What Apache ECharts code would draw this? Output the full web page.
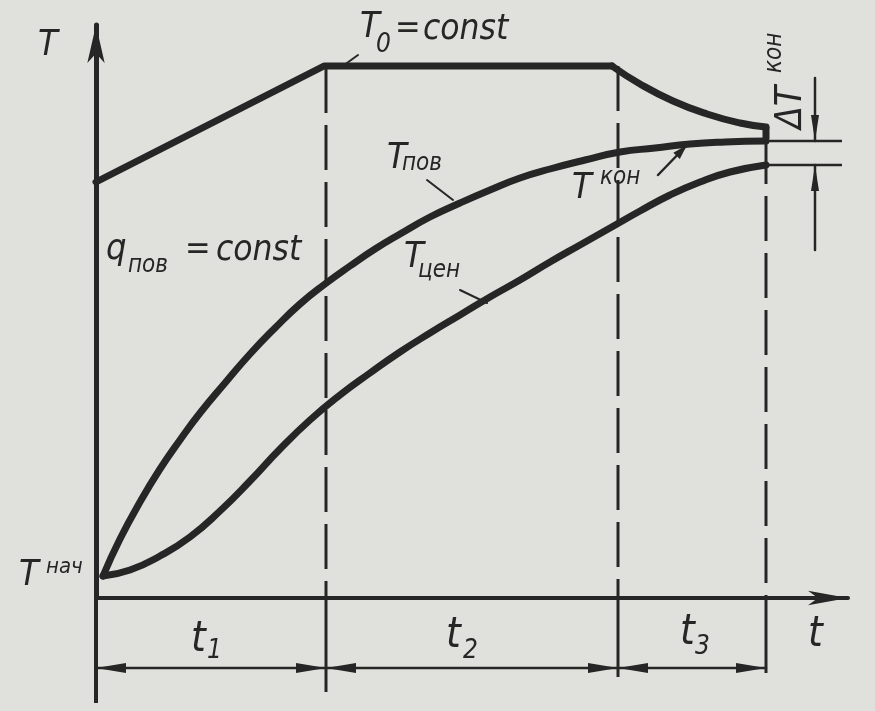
<!DOCTYPE html>
<html><head><meta charset="utf-8">
<script src="https://cdn.jsdelivr.net/npm/echarts@6/dist/echarts.min.js"></script>
<style>html,body{margin:0;padding:0;background:#e0e0dc;}#c{width:875px;height:711px;}</style>
</head><body><div id="c"></div>
<script>
// ---- data (t = time, T = temperature, arbitrary units) ----
const phaseEnds = [23.0, 52.2, 67.0];          // ends of t1, t2, t3
const dashTop   = [53.0, 53.2, 45.9];          // top of each dashed boundary
const extBottom = [-9.4, -7.9, -7.5];          // bottom of each extension line
const dimLevel  = -7.0;                          // level of the t1/t2/t3 dimension line
const yAxisBottom = -10.5;

// T0 = const : linear rise, plateau, then decay to the end of t3
const T0ramp_t = [0, 22.8, 51.6];
const T0ramp_v = [41.6, 53.2, 53.2];
const T0decay_t = [51.6, 54.4, 57.7, 61.1, 64.4, 67.0];
const T0decay_v = [53.2, 51.4, 49.7, 48.4, 47.5, 47.1];
const T0tail_t = [67.0, 67.0];
const T0tail_v = [47.1, 45.9];

const Tpov_t = [0.7, 2.4, 4.4, 6.4, 8.4, 10.4, 12.9, 15.4, 17.9, 20.4, 22.9, 25.4, 27.9, 30.4, 33.4, 36.4, 39.4, 42.4, 45.4, 48.9, 52.4, 55.9, 59.4, 62.9, 67.0];
const Tpov_v = [2.2, 5.9, 9.6, 12.9, 15.8, 18.5, 21.5, 24.4, 27.0, 29.4, 31.4, 33.2, 34.9, 36.4, 38.1, 39.5, 40.8, 42.0, 42.9, 43.8, 44.6, 45.0, 45.4, 45.6, 45.7];
const Tcen_t = [0.7, 3.4, 6.4, 9.4, 12.4, 15.4, 18.4, 21.4, 24.4, 27.4, 30.4, 33.4, 36.4, 39.4, 42.4, 45.4, 48.4, 51.4, 54.4, 57.4, 60.4, 63.4, 67.0];
const Tcen_v = [2.2, 2.8, 4.2, 6.1, 8.7, 11.7, 14.9, 17.8, 20.3, 22.5, 24.6, 26.5, 28.3, 30.1, 31.8, 33.6, 35.3, 37.0, 38.7, 40.3, 41.6, 42.6, 43.3];

const dTkon_t = 71.9;          // ΔT^кон dimension position
const dTkon_top = 52.0, dTkon_bottom = 34.8;
const extEnd_t = 74.6;          // end of the ΔT extension lines
const Tkon_arrow = [56.2, 42.3, 59.1, 45.3];
const leaders = [[24.4, 53.0, 26.2, 54.3], [33.1, 41.8, 35.7, 39.8], [36.4, 30.8, 39.1, 29.5]];

// ---- build ----
const INK = '#262626';
const FONT = '"DejaVu Sans Condensed","DejaVu Sans",sans-serif';
const zip = (a, b) => a.map((v, i) => [v, b[i]]);

function arrowRender(o) {
  return function (params, api) {
    const a = api.coord([api.value(0), api.value(1)]);
    const b = api.coord([api.value(2), api.value(3)]);
    const ch = [{type: 'line', shape: {x1: a[0], y1: a[1], x2: b[0], y2: b[1]},
                 style: {stroke: INK, lineWidth: o.w, lineCap: 'round'}}];
    const dx = b[0] - a[0], dy = b[1] - a[1], L = Math.hypot(dx, dy) || 1;
    const ux = dx / L, uy = dy / L, nx = -uy, ny = ux;
    function head(p, sx, sy) {
      const bx = p[0] - sx * o.len, by = p[1] - sy * o.len;
      return {type: 'polygon', shape: {points: [[p[0], p[1]], [bx + nx * o.hw, by + ny * o.hw], [bx - nx * o.hw, by - ny * o.hw]]},
              style: {fill: INK}};
    }
    if (o.start) ch.push(head(a, -ux, -uy));
    if (o.end) ch.push(head(b, ux, uy));
    return {type: 'group', children: ch};
  };
}

const dimSegs = [];
let prev = 0;
phaseEnds.forEach(e => { dimSegs.push([prev, dimLevel, e, dimLevel]); prev = e; });

const series = [];
const lineBase = {type: 'line', showSymbol: false, symbol: 'none', clip: false, silent: true, animation: false};
const thick = {color: INK, width: 7, cap: 'round', join: 'round'};
series.push(Object.assign({}, lineBase, {data: zip(T0ramp_t, T0ramp_v), lineStyle: thick}));
series.push(Object.assign({}, lineBase, {data: zip(T0decay_t, T0decay_v), smooth: 0.5, lineStyle: thick}));
series.push(Object.assign({}, lineBase, {data: zip(T0tail_t, T0tail_v), lineStyle: {color: INK, width: 7, cap: 'butt'}}));
series.push(Object.assign({}, lineBase, {data: zip(Tpov_t, Tpov_v), smooth: 0.5, lineStyle: thick}));
series.push(Object.assign({}, lineBase, {data: zip(Tcen_t, Tcen_v), smooth: 0.5, lineStyle: thick}));
phaseEnds.forEach((e, i) => {
  series.push(Object.assign({}, lineBase, {data: [[e, dashTop[i]], [e, 0]], lineStyle: {color: INK, width: 3, type: [45, 12]}}));
  series.push(Object.assign({}, lineBase, {data: [[e, 0], [e, extBottom[i]]], lineStyle: {color: INK, width: 3}}));
});
series.push(Object.assign({}, lineBase, {data: [[0, 0], [0, yAxisBottom]], lineStyle: {color: INK, width: 4}}));
// ΔT extension lines
const TpovEnd = Tpov_v[Tpov_v.length - 1], TcenEnd = Tcen_v[Tcen_v.length - 1];
series.push(Object.assign({}, lineBase, {data: [[phaseEnds[2], TpovEnd], [extEnd_t, TpovEnd]], lineStyle: {color: INK, width: 2.5}}));
series.push(Object.assign({}, lineBase, {data: [[phaseEnds[2], TcenEnd], [extEnd_t, TcenEnd]], lineStyle: {color: INK, width: 2.5}}));

const customBase = {type: 'custom', coordinateSystem: 'cartesian2d', clip: false, silent: true, animation: false, encode: {x: [0, 2], y: [1, 3]}};
series.push(Object.assign({}, customBase, {data: dimSegs, renderItem: arrowRender({w: 2.5, len: 30, hw: 5, start: true, end: true})}));
series.push(Object.assign({}, customBase, {data: [
  [dTkon_t, dTkon_top, dTkon_t, TpovEnd],
  [dTkon_t, dTkon_bottom, dTkon_t, TcenEnd]
], renderItem: arrowRender({w: 2.5, len: 26, hw: 4, start: false, end: true})}));
series.push(Object.assign({}, customBase, {data: [Tkon_arrow], renderItem: arrowRender({w: 2.5, len: 15, hw: 4.5, start: false, end: true})}));
series.push(Object.assign({}, customBase, {data: leaders, renderItem: arrowRender({w: 2, len: 0, hw: 0, start: false, end: false})}));

function txt(x, y, s, size, rot) {
  return {type: 'text', x: x, y: y, rotation: rot || 0, silent: true,
    style: {text: s, font: 'italic ' + size + 'px ' + FONT, fill: INK, align: 'left', verticalAlign: 'middle', textAlign: 'left', textVerticalAlign: 'middle'}};
}
const graphics = [
  txt(38, 46, 'T', 36),
  txt(360, 28, 'T', 36), txt(376, 45, '0', 26), txt(395, 29, '=', 34), txt(423, 30, 'const', 35),
  txt(106, 250, 'q', 36), txt(128, 266, 'пов', 24), txt(185, 250, '=', 34), txt(216, 251, 'const', 35),
  txt(387, 159, 'T', 36), txt(402, 164, 'пов', 24),
  txt(404, 258, 'T', 36), txt(418, 271, 'цен', 24),
  txt(572, 189, 'T', 36), txt(600, 178, 'кон', 24),
  txt(19, 576, 'T', 36), txt(46, 567, 'нач', 22),
  txt(791, 129, 'ΔT', 37, Math.PI / 2), txt(775, 73, 'кон', 24, Math.PI / 2),
  txt(191, 640, 't', 42), txt(207, 651, '1', 26),
  txt(446, 636, 't', 42), txt(463, 651, '2', 26),
  txt(680, 633, 't', 42), txt(695, 647, '3', 26),
  txt(808, 635, 't', 42)
];

const chart = echarts.init(document.getElementById('c'), null, {renderer: 'canvas'});
chart.setOption({
  animation: false,
  backgroundColor: '#e0e0dc',
  grid: {left: 96, right: 27, top: 25, bottom: 113, containLabel: false},
  xAxis: {type: 'value', min: 0, max: 75.2,
    axisLine: {onZero: false, symbol: ['none', 'arrow'], symbolSize: [11, 40], lineStyle: {color: INK, width: 4}},
    axisTick: {show: false}, axisLabel: {show: false}, splitLine: {show: false}},
  yAxis: {type: 'value', min: 0, max: 57.3,
    axisLine: {show: true, onZero: false, symbol: ['none', 'arrow'], symbolSize: [13, 38], lineStyle: {color: INK, width: 5}},
    axisTick: {show: false}, axisLabel: {show: false}, splitLine: {show: false}},
  series: series,
  graphic: graphics
});
</script></body></html>
